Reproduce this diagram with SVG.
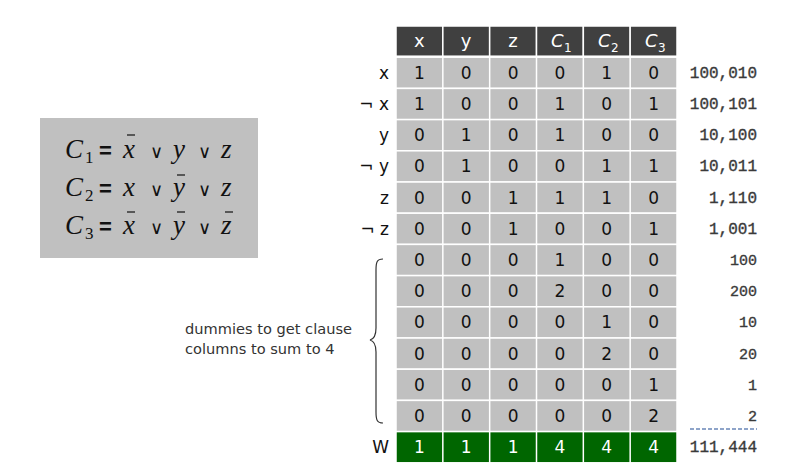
<svg xmlns="http://www.w3.org/2000/svg" width="807" height="473" viewBox="0 0 807 473">
<style>
.cell{fill:#c0c0c0;stroke:#ffffff;stroke-width:1.5}
.hd{fill:#404040;stroke:#ffffff;stroke-width:1.5}
.gr{fill:#006600;stroke:#ffffff;stroke-width:1.5}
.v{font-family:"DejaVu Sans",sans-serif;font-size:17px;fill:#111;text-anchor:middle}
.vw{font-family:"DejaVu Sans",sans-serif;font-size:17px;fill:#ffffff;text-anchor:middle}
.h{font-family:"DejaVu Sans",sans-serif;font-size:18px;fill:#ffffff;text-anchor:middle}
.hc{font-family:"DejaVu Sans",sans-serif;font-size:18px;font-style:italic;fill:#ffffff}
.sub{font-family:"DejaVu Sans",sans-serif;font-size:12px;fill:#ffffff}
.lab{font-family:"DejaVu Sans",sans-serif;font-size:17px;fill:#111;text-anchor:end}
.num{font-family:"Liberation Mono",monospace;font-size:16px;fill:#3a3a3a;stroke:#3a3a3a;stroke-width:0.35;text-anchor:end}
.numd{font-family:"Liberation Mono",monospace;font-size:15px;fill:#3a3a3a;stroke:#3a3a3a;stroke-width:0.35;text-anchor:end}
.f{font-family:"Liberation Serif",serif;font-size:27px;font-style:italic;fill:#111}
.fs{font-family:"Liberation Serif",serif;font-size:17px;fill:#111}
.eq{font-family:"Liberation Sans",sans-serif;font-size:22px;font-weight:bold;fill:#111}
.or{font-family:"DejaVu Sans",sans-serif;font-size:18px;fill:#111}
.bar{stroke:#111;stroke-width:1.2}
.note{font-family:"DejaVu Sans",sans-serif;font-size:14.6px;fill:#333}
</style>

<g id="formula-box">
<rect x="40" y="118" width="218" height="140" fill="#c0c0c0"/>
<text class="f" x="65" y="158">C</text><text class="fs" x="85" y="163">1</text>
<text class="eq" x="99" y="158">=</text>
<text class="f" x="123" y="158">x</text><line class="bar" x1="127" y1="135" x2="135" y2="135"/>
<text class="or" x="150" y="158">∨</text>
<text class="f" x="173" y="158">y</text>
<text class="or" x="198" y="158">∨</text>
<text class="f" x="221" y="158">z</text>

<text class="f" x="65" y="196">C</text><text class="fs" x="85" y="201">2</text>
<text class="eq" x="99" y="196">=</text>
<text class="f" x="123" y="196">x</text>
<text class="or" x="150" y="196">∨</text>
<text class="f" x="173" y="196">y</text><line class="bar" x1="177" y1="175" x2="185" y2="175"/>
<text class="or" x="198" y="196">∨</text>
<text class="f" x="221" y="196">z</text>

<text class="f" x="65" y="234">C</text><text class="fs" x="85" y="239">3</text>
<text class="eq" x="99" y="234">=</text>
<text class="f" x="123" y="234">x</text><line class="bar" x1="127" y1="212" x2="135" y2="212"/>
<text class="or" x="150" y="234">∨</text>
<text class="f" x="173" y="234">y</text><line class="bar" x1="177" y1="212" x2="185" y2="212"/>
<text class="or" x="198" y="234">∨</text>
<text class="f" x="221" y="234">z</text><line class="bar" x1="225" y1="212" x2="233" y2="212"/>
</g>

<g id="header">
<rect class="hd" x="396" y="26" width="46.83" height="30.2"/>
<rect class="hd" x="442.83" y="26" width="46.83" height="30.2"/>
<rect class="hd" x="489.67" y="26" width="46.83" height="30.2"/>
<rect class="hd" x="536.5" y="26" width="46.83" height="30.2"/>
<rect class="hd" x="583.33" y="26" width="46.83" height="30.2"/>
<rect class="hd" x="630.17" y="26" width="46.83" height="30.2"/>
<text class="h" x="419.4" y="47">x</text>
<text class="h" x="466.2" y="47">y</text>
<text class="h" x="513.1" y="47">z</text>
<text class="hc" x="551" y="47">C</text><text class="sub" x="564" y="52">1</text>
<text class="hc" x="598" y="47">C</text><text class="sub" x="611" y="52">2</text>
<text class="hc" x="645" y="47">C</text><text class="sub" x="658" y="52">3</text>
</g>

<g id="rows">
<g id="row-x">
<rect class="cell" x="396" y="57.2" width="281" height="31.2"/>
<text class="lab" x="389" y="79">x</text>
<text class="v" x="419.4" y="79">1</text><text class="v" x="466.2" y="79">0</text><text class="v" x="513.1" y="79">0</text><text class="v" x="559.9" y="79">0</text><text class="v" x="606.7" y="79">1</text><text class="v" x="653.6" y="79">0</text>
<text class="num" x="757" y="78">100,010</text>
</g>
<g id="row-notx">
<rect class="cell" x="396" y="88.4" width="281" height="31.2"/>
<text class="lab" x="389" y="110">¬ x</text>
<text class="v" x="419.4" y="110">1</text><text class="v" x="466.2" y="110">0</text><text class="v" x="513.1" y="110">0</text><text class="v" x="559.9" y="110">1</text><text class="v" x="606.7" y="110">0</text><text class="v" x="653.6" y="110">1</text>
<text class="num" x="757" y="109">100,101</text>
</g>
<g id="row-y">
<rect class="cell" x="396" y="119.6" width="281" height="31.2"/>
<text class="lab" x="389" y="141">y</text>
<text class="v" x="419.4" y="141">0</text><text class="v" x="466.2" y="141">1</text><text class="v" x="513.1" y="141">0</text><text class="v" x="559.9" y="141">1</text><text class="v" x="606.7" y="141">0</text><text class="v" x="653.6" y="141">0</text>
<text class="num" x="757" y="140">10,100</text>
</g>
<g id="row-noty">
<rect class="cell" x="396" y="150.8" width="281" height="31.2"/>
<text class="lab" x="389" y="172">¬ y</text>
<text class="v" x="419.4" y="172">0</text><text class="v" x="466.2" y="172">1</text><text class="v" x="513.1" y="172">0</text><text class="v" x="559.9" y="172">0</text><text class="v" x="606.7" y="172">1</text><text class="v" x="653.6" y="172">1</text>
<text class="num" x="757" y="171">10,011</text>
</g>
<g id="row-z">
<rect class="cell" x="396" y="182" width="281" height="31.2"/>
<text class="lab" x="389" y="204">z</text>
<text class="v" x="419.4" y="204">0</text><text class="v" x="466.2" y="204">0</text><text class="v" x="513.1" y="204">1</text><text class="v" x="559.9" y="204">1</text><text class="v" x="606.7" y="204">1</text><text class="v" x="653.6" y="204">0</text>
<text class="num" x="757" y="203">1,110</text>
</g>
<g id="row-notz">
<rect class="cell" x="396" y="213.2" width="281" height="31.2"/>
<text class="lab" x="389" y="235">¬ z</text>
<text class="v" x="419.4" y="235">0</text><text class="v" x="466.2" y="235">0</text><text class="v" x="513.1" y="235">1</text><text class="v" x="559.9" y="235">0</text><text class="v" x="606.7" y="235">0</text><text class="v" x="653.6" y="235">1</text>
<text class="num" x="757" y="234">1,001</text>
</g>
<g id="dummy-1">
<rect class="cell" x="396" y="244.4" width="281" height="31.2"/>
<text class="v" x="419.4" y="266">0</text><text class="v" x="466.2" y="266">0</text><text class="v" x="513.1" y="266">0</text><text class="v" x="559.9" y="266">1</text><text class="v" x="606.7" y="266">0</text><text class="v" x="653.6" y="266">0</text>
<text class="numd" x="757" y="265">100</text>
</g>
<g id="dummy-2">
<rect class="cell" x="396" y="275.6" width="281" height="31.2"/>
<text class="v" x="419.4" y="297">0</text><text class="v" x="466.2" y="297">0</text><text class="v" x="513.1" y="297">0</text><text class="v" x="559.9" y="297">2</text><text class="v" x="606.7" y="297">0</text><text class="v" x="653.6" y="297">0</text>
<text class="numd" x="757" y="296">200</text>
</g>
<g id="dummy-3">
<rect class="cell" x="396" y="306.8" width="281" height="31.2"/>
<text class="v" x="419.4" y="328">0</text><text class="v" x="466.2" y="328">0</text><text class="v" x="513.1" y="328">0</text><text class="v" x="559.9" y="328">0</text><text class="v" x="606.7" y="328">1</text><text class="v" x="653.6" y="328">0</text>
<text class="numd" x="757" y="327">10</text>
</g>
<g id="dummy-4">
<rect class="cell" x="396" y="338" width="281" height="31.2"/>
<text class="v" x="419.4" y="360">0</text><text class="v" x="466.2" y="360">0</text><text class="v" x="513.1" y="360">0</text><text class="v" x="559.9" y="360">0</text><text class="v" x="606.7" y="360">2</text><text class="v" x="653.6" y="360">0</text>
<text class="numd" x="757" y="359">20</text>
</g>
<g id="dummy-5">
<rect class="cell" x="396" y="369.2" width="281" height="31.2"/>
<text class="v" x="419.4" y="391">0</text><text class="v" x="466.2" y="391">0</text><text class="v" x="513.1" y="391">0</text><text class="v" x="559.9" y="391">0</text><text class="v" x="606.7" y="391">0</text><text class="v" x="653.6" y="391">1</text>
<text class="numd" x="757" y="390">1</text>
</g>
<g id="dummy-6">
<rect class="cell" x="396" y="400.4" width="281" height="31.2"/>
<text class="v" x="419.4" y="422">0</text><text class="v" x="466.2" y="422">0</text><text class="v" x="513.1" y="422">0</text><text class="v" x="559.9" y="422">0</text><text class="v" x="606.7" y="422">0</text><text class="v" x="653.6" y="422">2</text>
<text class="numd" x="757" y="421">2</text>
</g>
<g id="row-W">
<rect class="gr" x="396" y="431.6" width="281" height="31.2"/>
<text class="lab" x="389" y="453">W</text>
<text class="vw" x="419.4" y="453">1</text><text class="vw" x="466.2" y="453">1</text><text class="vw" x="513.1" y="453">1</text><text class="vw" x="559.9" y="453">4</text><text class="vw" x="606.7" y="453">4</text><text class="vw" x="653.6" y="453">4</text>
<text class="num" x="757" y="452">111,444</text>
</g>
</g>

<g id="grid-lines" stroke="#ffffff" stroke-width="1.5">
<line x1="442.83" y1="57" x2="442.83" y2="463"/>
<line x1="489.67" y1="57" x2="489.67" y2="463"/>
<line x1="536.5" y1="57" x2="536.5" y2="463"/>
<line x1="583.33" y1="57" x2="583.33" y2="463"/>
<line x1="630.17" y1="57" x2="630.17" y2="463"/>
</g>

<g id="connectors">
<path d="M383,259 C377,259 376,262 376,270 L376,328 C376,336 374,339 370,340 C374,341 376,344 376,352 L376,412 C376,420 377,423 383,423" fill="none" stroke="#333" stroke-width="1.2"/>
<line x1="690" y1="429" x2="757" y2="429" stroke="#6a86b8" stroke-width="1.3" stroke-dasharray="4,2"/>
</g>

<g id="note">
<text class="note" x="185" y="334">dummies to get clause</text>
<text class="note" x="185" y="354">columns to sum to 4</text>
</g>
</svg>
